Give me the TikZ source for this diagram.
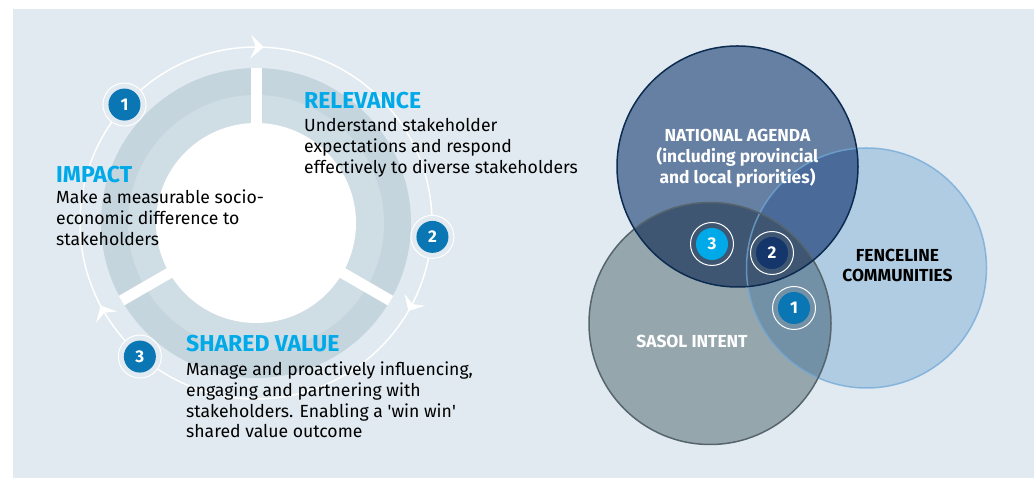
\documentclass[tikz,border=0pt]{standalone}
\usepackage{fontspec}
\setmainfont{Fira Sans}
\usepackage{xcolor}
\usepackage{tikz}
\usetikzlibrary{positioning}
\definecolor{panel}{HTML}{E1EAF0}
\definecolor{banddark}{HTML}{C5D5DE}
\definecolor{bandlight}{HTML}{CFDDE5}
\definecolor{headcyan}{HTML}{00A9E8}
\definecolor{badgeblue}{HTML}{0A76B4}
\definecolor{badgenavy}{HTML}{15366B}
\definecolor{natfill}{HTML}{6580A3}
\definecolor{natline}{HTML}{0C2B50}
\definecolor{fencefill}{HTML}{B0CCE2}
\definecolor{fenceline}{HTML}{72A9D8}
\definecolor{sasolfill}{HTML}{95A6AD}
\definecolor{sasolline}{HTML}{56656D}
\definecolor{natsasol}{HTML}{3E5672}
\definecolor{natfence}{HTML}{4A6A9A}
\definecolor{sasolfence}{HTML}{7290A6}
\tikzstyle{ring}=[circle,draw=white,fill=panel,line width=1pt,minimum size=43pt,inner sep=0pt]
\tikzstyle{vennring}=[circle,draw=white,line width=1pt,minimum size=43pt,inner sep=0pt]
\tikzstyle{badge}=[circle,fill=badgeblue,text=white,font=\bfseries\fontsize{17}{17}\selectfont,minimum size=32pt,inner sep=0pt]
\tikzstyle{heading}=[anchor=base west,inner sep=0pt,text=headcyan,font=\bfseries\fontsize{23}{26}\selectfont]
\tikzstyle{body}=[anchor=base west,inner sep=0pt,align=left,font=\fontsize{17.6}{20.7}\selectfont]
\tikzset{venntext/.style={anchor=base,inner sep=0pt,align=center,font=\bfseries\fontsize{17.4}{20.6}\selectfont}}

\begin{document}
\begin{tikzpicture}[x=1pt,y=1pt]
 \useasboundingbox (0,0) rectangle (1034,478);
 \fill[panel] (13,0) rectangle (1034,469);

 %cycle
 \def\cx{256};
 \def\cy{255};
 \fill[banddark] (\cx,\cy) circle (155);
 \fill[bandlight] (\cx,\cy) circle (128);
 \fill[white] (\cx,\cy) circle (100);
 \foreach \a in {90,210,330}
   \draw[white, line width=11pt] (\cx,\cy) ++(\a:99) -- ++(\a:56.3);

 \draw[white, line width=1.5pt] (\cx,\cy) circle (176);
 % arrowheads, pointing clockwise
 \foreach \a in {87.5,330,208}
   \fill[white, shift={(\cx,\cy)}, rotate=\a] (176,0) -- (188,13) -- (176,8) -- (164,13) -- cycle;

 \foreach \a/\name/\label in {138/c1/1, -4.5/c2/2, 229/c3/3}{
   \node[ring] (r\name) at ([shift={(\cx,\cy)}]\a:177) {};
   \node[badge] (\name) at (r\name) {\label};
 }

 % multi-line texts sit on their last baseline
 \node[heading] (relevance) at (304,369) {RELEVANCE};
 \node[body] (relevancetext) at (304,304.6) {Understand stakeholder\\expectations and respond\\effectively to diverse stakeholders};
 \node[heading] (impact) at (56,295) {IMPACT};
 \node[body] (impacttext) at (56,232.6) {Make a measurable socio-\\economic difference to\\stakeholders};
 \node[heading] (shared) at (186,126) {SHARED VALUE};
 \node[body] (sharedtext) at (186,40) {Manage and proactively influencing,\\engaging and partnering with\\stakeholders. Enabling a \textquotesingle win win\textquotesingle\\shared value outcome};

 %venn
 \def\natc{(737.5,311.5)};
 \def\fencec{(866.5,210)};
 \def\sasolc{(710,154.5)};
 \fill[fencefill] \fencec circle (120);
 \fill[sasolfill] \sasolc circle (121);
 \fill[natfill] \natc circle (120.5);
 \begin{scope}
   \clip \sasolc circle (121);
   \fill[sasolfence] \fencec circle (120);
 \end{scope}
 \begin{scope}
   \clip \natc circle (120.5);
   \fill[natfence] \fencec circle (120);
 \end{scope}
 \begin{scope}
   \clip \natc circle (120.5);
   \fill[natsasol] \sasolc circle (121);
 \end{scope}
 \draw[fenceline, line width=1.5pt, draw opacity=.75] \fencec circle (120);
 \draw[sasolline, line width=1.5pt] \sasolc circle (121);
 \draw[natline, line width=1.5pt] \natc circle (120.5);

 \node[venntext, text=white] (national) at (737.5,294.8) {NATIONAL AGENDA\\(including provincial\\and local priorities)};
 \node[venntext, text=black] (fenceline) at (897.5,196) {FENCELINE\\COMMUNITIES};
 \node[venntext, text=white] (sasol) at (692,130) {SASOL INTENT};

 \foreach \x/\y/\name/\label/\col in {712/234/v3/3/headcyan, 772/225/v2/2/badgenavy, 794/170/v1/1/badgeblue}{
   \node[vennring] (r\name) at (\x,\y) {};
   \node[badge, fill=\col] (\name) at (r\name) {\label};
 }
\end{tikzpicture}
\end{document}
